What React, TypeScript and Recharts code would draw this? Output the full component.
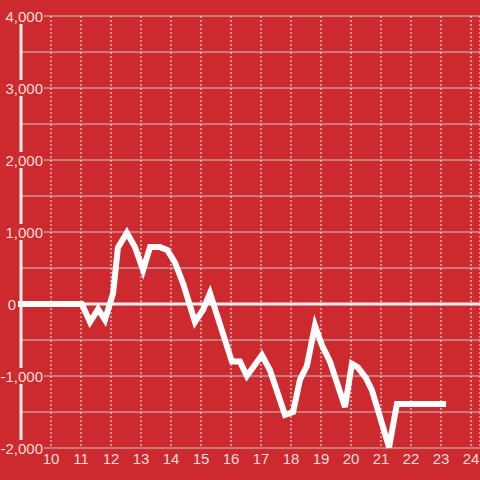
import React from "react";
import {
  LineChart,
  Line,
  XAxis,
  YAxis,
  CartesianGrid,
  ReferenceLine,
} from "recharts";

const xValues = [
  9, 11.03, 11.3, 11.57, 11.8, 12.07, 12.23, 12.53, 12.8, 13.07, 13.3, 13.63,
  13.87, 14.13, 14.4, 14.8, 15.07, 15.3, 16.03, 16.3, 16.53, 17.03, 17.3, 17.8,
  18.07, 18.3, 18.53, 18.8, 19.03, 19.3, 19.8, 20.03, 20.23, 20.5, 20.7, 21.27,
  21.53, 23.07,
];
const yValues = [
  0, 0, -250, -70, -220, 150, 780, 990, 790, 470, 790, 790, 750, 580, 290,
  -250, -80, 150, -800, -800, -1000, -710, -920, -1540, -1500, -1050, -860,
  -300, -570, -800, -1430, -830, -880, -1030, -1200, -1990, -1390, -1390,
];
const xTicks = [10, 11, 12, 13, 14, 15, 16, 17, 18, 19, 20, 21, 22, 23, 24];
const yTicks = [
  -2000, -1500, -1000, -500, 0, 500, 1000, 1500, 2000, 2500, 3000, 3500, 4000,
];

const data = xValues.map((x, i) => ({ x, y: yValues[i] }));

const BG = "#cc2a2f";
const TEXT = "#f5dcdc";
const FONT = "Liberation Sans, Arial, sans-serif";

// y labels sit on a red box that hides the axis line / grid behind them
const YTick = (props: any) => {
  const { y, payload } = props;
  const v = payload.value;
  if (v % 1000 !== 0) return <g />;
  const tx = v === 0 ? 16 : 43;
  return (
    <g>
      <rect x={0} y={y - 8} width={tx + 1} height={16} fill={BG} />
      <text
        x={tx}
        y={y}
        dy={6}
        textAnchor="end"
        fill={TEXT}
        fontSize={15}
        fontFamily={FONT}
      >
        {v.toLocaleString("en-US")}
      </text>
    </g>
  );
};

export default function App() {
  return (
    <div
      style={{
        position: "absolute",
        left: 0,
        top: 0,
        width: 480,
        height: 480,
        background: BG,
      }}
    >
      <LineChart
        width={480}
        height={480}
        data={data}
        margin={{ top: 16, right: 0, left: 0, bottom: 0 }}
      >
        <CartesianGrid vertical={false} stroke="#c9c9c9" strokeWidth={1} />
        <CartesianGrid
          horizontal={false}
          stroke="#f0f0f0"
          strokeDasharray="2 2"
          strokeWidth={1}
        />
        <XAxis
          type="number"
          dataKey="x"
          domain={[9, 24.3]}
          ticks={xTicks}
          axisLine={false}
          tickLine={false}
          height={32}
          tickSize={5}
          tickMargin={0}
          tick={{ fill: TEXT, fontSize: 15, fontFamily: FONT }}
        />
        <YAxis
          type="number"
          domain={[-2000, 4000]}
          ticks={yTicks}
          width={21}
          axisLine={{ stroke: "#f5f0f0", strokeWidth: 3 }}
          tickLine={false}
          tick={<YTick />}
        />
        <ReferenceLine y={0} stroke="#f5f0f0" strokeWidth={3} />
        <Line
          type="linear"
          dataKey="y"
          stroke="#ffffff"
          strokeWidth={6}
          strokeLinecap="square"
          dot={false}
          isAnimationActive={false}
        />
      </LineChart>
    </div>
  );
}
